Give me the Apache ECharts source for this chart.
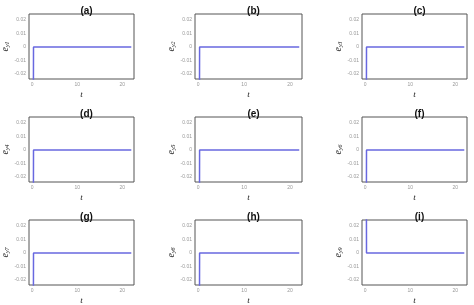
<!DOCTYPE html>
<html>
<head>
<meta charset="utf-8">
<script src="https://cdn.jsdelivr.net/npm/echarts@6/dist/echarts.min.js"></script>
<style>html,body{margin:0;padding:0;background:#fff}#c{width:474px;height:305px}</style>
</head>
<body>
<div id="c"></div>
<script>
const panelTitles = ['(a)','(b)','(c)','(d)','(e)','(f)','(g)','(h)','(i)'];
const yNames = ['y1','y2','y3','y4','y5','y6','y7','y8','y9'];
const tValues = [0, 0.3, 22];
const e1 = [-0.5, 0, 0];
const e2 = [-0.5, 0, 0];
const e3 = [-0.5, 0, 0];
const e4 = [-0.5, 0, 0];
const e5 = [-0.5, 0, 0];
const e6 = [-0.5, 0, 0];
const e7 = [-0.5, 0, 0];
const e8 = [-0.5, 0, 0];
const e9 = [0.5, 0, 0];
const errors = [e1,e2,e3,e4,e5,e6,e7,e8,e9];
const yTicks = [-0.02, -0.01, 0, 0.01, 0.02];
const xTicks = [0, 10, 20];

const colLeft = [29, 195, 362];
const colRight = [134, 302, 467];
const rowTop = [14, 117, 220];
const rowBottom = [79, 182, 285];

const grids = [], xAxes = [], yAxes = [], series = [], titles = [];
for (let i = 0; i < 9; i++) {
  const r = Math.floor(i / 3), c = i % 3;
  grids.push({left: colLeft[c], top: rowTop[r], width: colRight[c] - colLeft[c], height: rowBottom[r] - rowTop[r],
    containLabel: false, outerBoundsMode: 'none',
    show: true, borderColor: '#555', borderWidth: 1, backgroundColor: '#fff'});
  titles.push({text: panelTitles[i], left: (colLeft[c] + colRight[c]) / 2, top: rowTop[r] - 13, textAlign: 'center',
    textStyle: {fontFamily: 'Liberation Sans', fontWeight: 'bold', fontSize: 10, color: '#111'}});
  xAxes.push({type: 'value', gridIndex: i, min: -0.7, max: 22.6,
    name: 't', nameLocation: 'middle', nameGap: 11,
    nameTextStyle: {fontFamily: 'Liberation Serif', fontStyle: 'italic', fontSize: 9, color: '#222'},
    axisLine: {show: false}, splitLine: {show: false}, axisTick: {show: false},
    axisLabel: {fontSize: 5, color: '#999', margin: 3, customValues: xTicks, formatter: v => String(v)}});
  yAxes.push({type: 'value', gridIndex: i, min: -0.0237, max: 0.0245,
    name: '{e|e}{s|' + yNames[i] + '}', nameLocation: 'middle', nameGap: 18, nameRotate: 90,
    nameTextStyle: {rich: {
      e: {fontFamily: 'Liberation Serif', fontStyle: 'italic', fontSize: 10, color: '#222'},
      s: {fontFamily: 'Liberation Serif', fontStyle: 'italic', fontSize: 6, color: '#222', verticalAlign: 'bottom', padding: [3,0,0,0]}}},
    axisLine: {show: false}, splitLine: {show: false}, axisTick: {show: false},
    axisLabel: {fontSize: 5, color: '#999', margin: 3, customValues: yTicks,
      formatter: v => (Math.abs(v) < 1e-9 ? '0' : v.toFixed(2))}});
  series.push({type: 'line', xAxisIndex: i, yAxisIndex: i, showSymbol: false, clip: true, animation: false,
    data: tValues.map((t, k) => [t, errors[i][k]]),
    lineStyle: {color: '#6868e0', width: 1.5}});
}
const chart = echarts.init(document.getElementById('c'), null, {renderer: 'canvas'});
chart.setOption({animation: false, title: titles, grid: grids, xAxis: xAxes, yAxis: yAxes, series: series});
</script>
</body>
</html>
